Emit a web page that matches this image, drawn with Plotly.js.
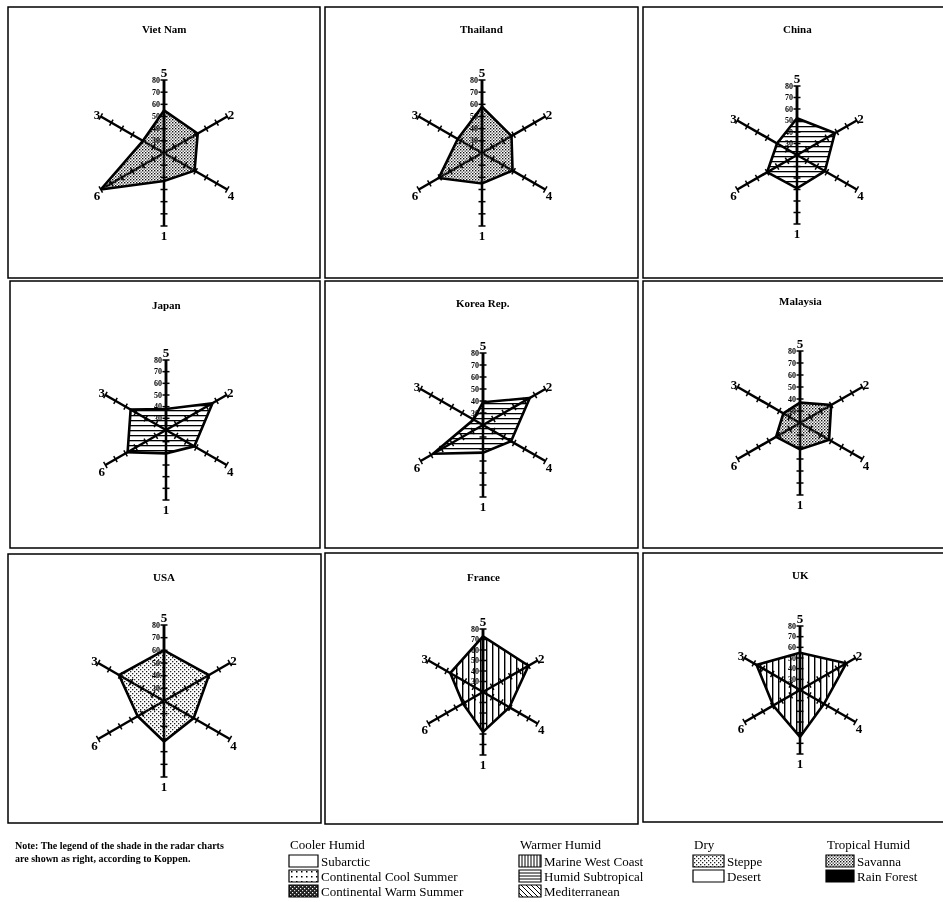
<!DOCTYPE html>
<html><head><meta charset="utf-8">
<script src="https://cdn.plot.ly/plotly-3.0.1.min.js"></script>
<style>html,body{margin:0;padding:0;background:#fff}#chart{width:943px;height:902px}
#chart svg{will-change:transform}</style>
</head><body><div id="chart"></div>
<script>
// ---- data ----
const spokes = ['5','2','4','1','6','3'];
const countries = ['Viet Nam','Thailand','China','Japan','Korea Rep.','Malaysia','USA','France','UK'];
const vietNam  = [55,52,49,43,80,40];
const thailand = [58,48,49,45,61,43];
const china    = [52,58,48,49,50,40];
const japan    = [38,66,48,40,58,55];
const koreaRep = [39,65,47,43,68,29];
const malaysia = [37,50,48,42,43,36];
const usa      = [60,61,47,52,44,61];
const france   = [73,70,49,58,42,56];
const uk       = [55,70,46,64,49,67];
const climate  = ['Savanna','Savanna','Humid Subtropical','Humid Subtropical','Humid Subtropical','Savanna','Steppe','Marine West Coast','Marine West Coast'];
const radialTicks = [20,30,40,50,60,70,80];
const radialTickText = ['20','30','40','50','60','70','80'];
const legendGroups = ['Cooler Humid','Warmer Humid','Dry','Tropical Humid'];
const legendItems = [
  ['Subarctic','Continental Cool Summer','Continental Warm Summer'],
  ['Marine West Coast','Humid Subtropical','Mediterranean'],
  ['Steppe','Desert'],
  ['Savanna','Rain Forest']
];
const noteText = 'Note: The legend of the shade in the radar charts<br>are shown as right, according to Koppen.';

// ---- layout helpers ----
const W = 943, H = 902;
const series = [vietNam, thailand, china, japan, koreaRep, malaysia, usa, france, uk];
// panel geometry: radar centre (px), radius (px), box [x0,y0,x1,y1] (px), title y (px)
const panels = [
  {cx:164, cy:153, R:73, box:[8,7,320,278],   ty:29},
  {cx:482, cy:153, R:73, box:[325,7,638,278], ty:29},
  {cx:797, cy:155, R:69, box:[643,7,945,278], ty:29},
  {cx:166, cy:430, R:70, box:[10,281,320,548], ty:305},
  {cx:483, cy:425, R:72, box:[325,281,638,548], ty:303},
  {cx:800, cy:423, R:72, box:[643,281,945,548], ty:301},
  {cx:164, cy:701, R:76, box:[8,554,321,823], ty:577},
  {cx:483, cy:692, R:63, box:[325,553,638,824], ty:577},
  {cx:800, cy:690, R:64, box:[643,553,945,822], ty:575}
];
const px = x => x / W;
const py = y => 1 - y / H;
const tickAngles = {'5':0,'1':0,'2':60,'6':60,'4':-60,'3':-60};
const patternId = {'Savanna':'pSav','Steppe':'pSte','Humid Subtropical':'pHor','Marine West Coast':'pVer',
  'Continental Warm Summer':'pCws','Continental Cool Summer':'pCcs'};

const serif = 'Liberation Serif, Times New Roman, serif';
const traces = [];
const layout = {
  width: W, height: H, margin:{l:0,r:0,t:0,b:0},
  paper_bgcolor:'#fff', showlegend:false,
  shapes: [], annotations: []
};
const subIds = [];

series.forEach((vals, i) => {
  const p = panels[i];
  const sub = i === 0 ? 'polar' : 'polar' + (i + 1);
  subIds.push(sub);
  traces.push({
    type:'scatterpolar', subplot: sub,
    r: vals.concat([vals[0]]), theta: spokes.concat([spokes[0]]),
    mode:'lines', fill:'toself', fillcolor:'#bbbbbb',
    line:{color:'#000', width:2.6}, hoverinfo:'skip'
  });
  // tick marks along each spoke
  const tr = [], tt = [], ta = [];
  spokes.forEach(s => radialTicks.slice(1).forEach(v => { tr.push(v); tt.push(s); ta.push(tickAngles[s]); }));
  traces.push({
    type:'scatterpolar', subplot: sub, r: tr, theta: tt, mode:'markers',
    marker:{symbol:'line-ew', size:5, angle: ta, line:{color:'#000', width:1.5}},
    hoverinfo:'skip'
  });
  layout[sub] = {
    domain:{x:[px(p.cx - p.R), px(p.cx + p.R)], y:[py(p.cy + p.R), py(p.cy - p.R)]},
    bgcolor:'rgba(0,0,0,0)',
    radialaxis:{range:[20,80], angle:90, tickangle:90, side:'counterclockwise',
      tickvals: radialTicks.slice(1), ticktext: radialTickText.slice(1),
      showgrid:false, showline:true, linecolor:'#000', linewidth:2.5,
      ticks:'', tickfont:{family:serif, size:8, color:'#000', weight:'bold'}},
    angularaxis:{type:'category', categoryarray: spokes, rotation:90, direction:'clockwise',
      showgrid:true, gridcolor:'#000', gridwidth:2.5, showline:false, ticks:'',
      tickfont:{family:serif, size:13, color:'#000', weight:'bold'}}
  };
  const b = p.box;
  layout.shapes.push({type:'rect', xref:'paper', yref:'paper', x0:px(b[0]), x1:px(b[2]), y0:py(b[3]), y1:py(b[1]),
    line:{color:'#000', width:1.5}});
  layout.annotations.push({xref:'paper', yref:'paper', x:px(p.cx), y:py(p.ty), text:countries[i],
    showarrow:false, font:{family:serif, size:11, color:'#000', weight:'bold'}, xanchor:'center', yanchor:'middle'});
});

// ---- legend ----
layout.annotations.push({xref:'paper', yref:'paper', x:px(13), y:py(838), text:noteText, align:'left',
  showarrow:false, xanchor:'left', yanchor:'top', font:{family:serif, size:10, color:'#000', weight:'bold'}});
const colX = [289, 519, 693, 826];
const patchW = [29, 22, 31, 28];
const rowY = [861, 876, 891];
const swatch = {
  'Subarctic':{fill:'#fff'}, 'Continental Cool Summer':{fill:'#e6e6e6', pat:true}, 'Continental Warm Summer':{fill:'#333', pat:true},
  'Marine West Coast':{fill:'#fff', v:true}, 'Humid Subtropical':{fill:'#fff', h:true}, 'Mediterranean':{fill:'#fff', d:true},
  'Steppe':{fill:'#cfcfcf', pat:true}, 'Desert':{fill:'#fff'}, 'Savanna':{fill:'#888', pat:true}, 'Rain Forest':{fill:'#000'}
};
const patShapes = [];
legendGroups.forEach((g, gi) => {
  const x0 = colX[gi];
  layout.annotations.push({xref:'paper', yref:'paper', x:px(x0 - 1), y:py(844), text:g, showarrow:false,
    xanchor:'left', yanchor:'middle', font:{family:serif, size:13, color:'#000'}});
  legendItems[gi].forEach((it, ri) => {
    const yc = rowY[ri], w = patchW[gi];
    const s = swatch[it];
    const X0 = x0, X1 = x0 + w, Y0 = yc - 6, Y1 = yc + 6;
    if (s.pat) patShapes.push([layout.shapes.length, patternId[it]]);
    layout.shapes.push({type:'rect', xref:'paper', yref:'paper', x0:px(X0), x1:px(X1), y0:py(Y1), y1:py(Y0),
      fillcolor:s.fill, line:{color:'#000', width:1.2}});
    if (s.v) for (let x = X0 + 3; x < X1; x += 3)
      layout.shapes.push({type:'line', xref:'paper', yref:'paper', x0:px(x), x1:px(x), y0:py(Y1), y1:py(Y0), line:{color:'#000', width:1}});
    if (s.h) for (let y = Y0 + 3; y < Y1; y += 3)
      layout.shapes.push({type:'line', xref:'paper', yref:'paper', x0:px(X0), x1:px(X1), y0:py(y), y1:py(y), line:{color:'#000', width:1}});
    if (s.d) for (let x = X0 - 8; x < X1; x += 5)
      layout.shapes.push({type:'line', xref:'paper', yref:'paper', x0:px(Math.max(X0, x)), y0:py(Y0 + (Math.max(X0, x) - x)),
        x1:px(Math.min(X1, x + 12)), y1:py(Y0 + (Math.min(X1, x + 12) - x)), line:{color:'#000', width:1}});
    layout.annotations.push({xref:'paper', yref:'paper', x:px(X1 + 1), y:py(yc), text:it, showarrow:false,
      xanchor:'left', yanchor:'middle', font:{family:serif, size:13, color:'#000'}});
  });
});

function addPatterns(gd) {
  const NS = 'http://www.w3.org/2000/svg';
  const svg = gd.querySelector('svg.main-svg');
  let defs = svg.querySelector('defs');
  if (!defs) { defs = document.createElementNS(NS, 'defs'); svg.insertBefore(defs, svg.firstChild); }
  const mk = (id, w, h, bg, rects) => {
    const pat = document.createElementNS(NS, 'pattern');
    pat.setAttribute('id', id); pat.setAttribute('patternUnits', 'userSpaceOnUse');
    pat.setAttribute('width', w); pat.setAttribute('height', h);
    if (bg) rects = [[0,0,w,h,bg]].concat(rects);
    rects.forEach(r => {
      const el = document.createElementNS(NS, 'rect');
      el.setAttribute('x', r[0]); el.setAttribute('y', r[1]); el.setAttribute('width', r[2]); el.setAttribute('height', r[3]);
      el.setAttribute('fill', r[4] || '#000');
      pat.appendChild(el);
    });
    defs.appendChild(pat);
  };
  mk('pSav', 3, 3, null, [[0,0,1.4,1.4,'#111'],[1.5,1.5,1.4,1.4,'#555']]);
  mk('pSte', 4, 4, null, [[0,0,1.3,1.3,'#222'],[2,2,1.3,1.3,'#222']]);
  mk('pHor', 5, 5, null, [[0,0,5,1.3,'#000']]);
  mk('pVer', 6, 5, null, [[0,0,1.4,5,'#000']]);
  mk('pCws', 4, 4, '#222', [[0,0,1.2,1.2,'#fff'],[2,2,1.2,1.2,'#ddd']]);
  mk('pCcs', 5, 5, '#fff', [[1,1,1.5,1.5,'#000']]);
  subIds.forEach((sub, i) => {
    const path = gd.querySelector('.polarlayer g.' + sub + ' path.js-fill');
    if (path) { path.style.fill = 'url(#' + patternId[climate[i]] + ')'; path.style.fillOpacity = 1; }
  });
  patShapes.forEach(([idx, pid]) => {
    const sp = gd.querySelector('.shapelayer path[data-index="' + idx + '"]');
    if (sp) { sp.style.fill = 'url(#' + pid + ')'; sp.style.fillOpacity = 1; }
  });
}

Plotly.newPlot('chart', traces, layout, {staticPlot:true}).then(addPatterns);
</script></body></html>
